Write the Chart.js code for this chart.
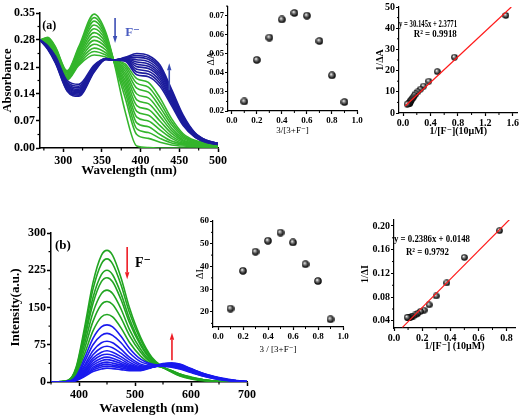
<!DOCTYPE html>
<html>
<head>
<meta charset="utf-8">
<script src="https://cdn.jsdelivr.net/npm/chart.js@4.4.0/dist/chart.umd.min.js"></script>
<style>
  html, body { margin: 0; padding: 0; background: #fff; }
  #wrap { position: relative; width: 520px; height: 417px; overflow: hidden; }
  canvas { position: absolute; }
</style>
</head>
<body>
<div id="wrap">
  <canvas id="specA" width="232" height="178" style="left:0;top:0"></canvas>
  <canvas id="jobA" width="165" height="136" style="left:205px;top:0"></canvas>
  <canvas id="bhA" width="148" height="137" style="left:372px;top:0"></canvas>
  <canvas id="specB" width="262" height="197" style="left:0;top:220px"></canvas>
  <canvas id="jobB" width="165" height="145" style="left:193px;top:210px"></canvas>
  <canvas id="bhB" width="162" height="140" style="left:358px;top:212px"></canvas>
</div>
<script>
// ---------- (a) absorption titration ----------
const wlA = [270, 280, 290, 305, 320, 340, 355, 365, 380, 395, 410, 425, 440, 455, 470, 485, 500];
const greenA = [
  [0.28, 0.287, 0.262, 0.200, 0.262, 0.347, 0.300, 0.228, 0.095, 0.005, 0.001, 0, 0, 0, 0, 0, 0],
  [0.28, 0.285, 0.260, 0.198, 0.258, 0.338, 0.295, 0.228, 0.130, 0.035, 0.025, 0.015, 0.008, 0.005, 0.004, 0.003, 0.003],
  [0.28, 0.283, 0.258, 0.195, 0.253, 0.329, 0.290, 0.228, 0.145, 0.050, 0.040, 0.025, 0.013, 0.008, 0.006, 0.005, 0.005],
  [0.28, 0.281, 0.256, 0.193, 0.249, 0.319, 0.285, 0.228, 0.157, 0.065, 0.055, 0.035, 0.018, 0.010, 0.007, 0.006, 0.006],
  [0.28, 0.279, 0.254, 0.190, 0.244, 0.309, 0.279, 0.228, 0.167, 0.080, 0.070, 0.047, 0.025, 0.012, 0.008, 0.007, 0.007],
  [0.28, 0.277, 0.252, 0.188, 0.240, 0.299, 0.273, 0.228, 0.176, 0.095, 0.085, 0.058, 0.031, 0.015, 0.010, 0.008, 0.008],
  [0.28, 0.275, 0.250, 0.186, 0.235, 0.289, 0.267, 0.228, 0.185, 0.110, 0.100, 0.070, 0.038, 0.018, 0.011, 0.009, 0.009],
  [0.28, 0.273, 0.248, 0.184, 0.231, 0.279, 0.261, 0.228, 0.193, 0.125, 0.115, 0.082, 0.045, 0.021, 0.012, 0.010, 0.010],
  [0.28, 0.271, 0.246, 0.182, 0.226, 0.269, 0.254, 0.228, 0.200, 0.140, 0.130, 0.094, 0.052, 0.025, 0.014, 0.011, 0.010],
  [0.28, 0.270, 0.244, 0.180, 0.222, 0.259, 0.247, 0.228, 0.207, 0.155, 0.145, 0.106, 0.060, 0.029, 0.016, 0.012, 0.011],
  [0.28, 0.268, 0.242, 0.178, 0.218, 0.250, 0.241, 0.228, 0.213, 0.168, 0.158, 0.118, 0.068, 0.033, 0.018, 0.013, 0.012],
  [0.28, 0.266, 0.240, 0.176, 0.214, 0.241, 0.236, 0.228, 0.218, 0.180, 0.170, 0.130, 0.076, 0.037, 0.020, 0.014, 0.012]
];
const blueA = [
  [0.28, 0.265, 0.238, 0.175, 0.165, 0.215, 0.232, 0.228, 0.225, 0.190, 0.185, 0.160, 0.110, 0.058, 0.028, 0.014, 0.009],
  [0.28, 0.264, 0.236, 0.171, 0.160, 0.213, 0.232, 0.228, 0.227, 0.197, 0.192, 0.167, 0.115, 0.061, 0.029, 0.015, 0.009],
  [0.28, 0.263, 0.234, 0.168, 0.156, 0.211, 0.232, 0.228, 0.228, 0.204, 0.199, 0.174, 0.120, 0.064, 0.031, 0.016, 0.010],
  [0.28, 0.262, 0.232, 0.165, 0.152, 0.209, 0.231, 0.228, 0.229, 0.211, 0.206, 0.181, 0.125, 0.067, 0.032, 0.016, 0.010],
  [0.28, 0.261, 0.230, 0.162, 0.149, 0.207, 0.231, 0.228, 0.230, 0.217, 0.212, 0.187, 0.130, 0.070, 0.034, 0.017, 0.010],
  [0.28, 0.260, 0.228, 0.159, 0.146, 0.205, 0.231, 0.228, 0.231, 0.223, 0.218, 0.193, 0.135, 0.073, 0.035, 0.018, 0.011],
  [0.28, 0.259, 0.226, 0.156, 0.143, 0.203, 0.230, 0.228, 0.232, 0.229, 0.224, 0.199, 0.140, 0.076, 0.037, 0.019, 0.011],
  [0.28, 0.258, 0.224, 0.153, 0.140, 0.201, 0.230, 0.228, 0.233, 0.235, 0.230, 0.205, 0.144, 0.079, 0.038, 0.019, 0.012],
  [0.28, 0.257, 0.222, 0.150, 0.137, 0.199, 0.230, 0.228, 0.234, 0.240, 0.235, 0.210, 0.148, 0.082, 0.039, 0.020, 0.012],
  [0.28, 0.256, 0.220, 0.148, 0.134, 0.197, 0.229, 0.228, 0.235, 0.245, 0.240, 0.215, 0.152, 0.085, 0.040, 0.020, 0.012]
];

// Job plot (a)
const jobX = [0.1, 0.2, 0.3, 0.4, 0.5, 0.6, 0.7, 0.8, 0.9];
const jobAvals = [0.025, 0.0468, 0.0585, 0.068, 0.0714, 0.070, 0.0567, 0.0387, 0.0247];

// Benesi-Hildebrand (a)
const bhAx = [1.5, 0.75, 0.5, 0.375, 0.3, 0.25, 0.214, 0.1875, 0.167, 0.15, 0.136, 0.125, 0.115, 0.107, 0.1, 0.094, 0.088, 0.075, 0.06];
const bhAy = [46, 26.3, 19.5, 15, 12.7, 11.2, 10, 9.1, 8.3, 7.5, 6.9, 6.3, 5.8, 5.3, 4.9, 4.6, 4.4, 4.3, 4.2];
const fitA = { slope: 30.145, icpt: 2.3771, from: 0.03, to: 1.58 };

// ---------- (b) emission titration ----------
const wlB = [350, 380, 395, 410, 425, 440, 450, 460, 475, 490, 510, 530, 550, 565, 580, 600, 625, 650, 675, 700];
const greenB = [
  [0, 3, 30, 110, 200, 255, 265, 255, 210, 150, 90, 50, 30, 20, 12, 6, 2, 1, 0, 0],
  [0, 3, 28, 103, 187, 238, 248, 238, 196, 140, 85, 48, 30, 21, 13, 7, 3, 1, 0, 0],
  [0, 3, 25, 93, 170, 216, 225, 216, 178, 128, 78, 45, 29, 21, 14, 8, 3, 1, 0, 0],
  [0, 2, 23, 87, 158, 202, 210, 202, 166, 120, 74, 43, 29, 22, 15, 8, 4, 1, 0, 0],
  [0, 2, 21, 77, 140, 178, 185, 178, 147, 106, 66, 40, 29, 22, 15, 9, 4, 1, 0, 0],
  [0, 2, 18, 67, 122, 156, 162, 156, 129, 94, 60, 38, 29, 23, 16, 9, 4, 1, 0, 0],
  [0, 2, 15, 57, 103, 131, 136, 131, 109, 80, 52, 35, 29, 23, 16, 10, 4, 1, 0, 0]
];
const blueB = [
  [0, 1, 12, 48, 88, 111, 115, 111, 92, 68, 46, 36, 32, 30, 26, 19, 11, 5, 2, 0],
  [0, 1, 10, 41, 75, 94, 98, 94, 79, 59, 41, 34, 32, 31, 27, 20, 11, 5, 2, 0],
  [0, 1, 9, 34, 63, 79, 82, 79, 66, 50, 36, 32, 32, 31, 28, 20, 12, 6, 2, 0],
  [0, 1, 8, 30, 55, 69, 72, 69, 58, 45, 33, 31, 33, 32, 29, 21, 12, 6, 2, 0],
  [0, 1, 7, 26, 48, 60, 63, 60, 51, 40, 31, 31, 33, 33, 30, 22, 13, 6, 2, 0],
  [0, 1, 6, 23, 43, 54, 56, 54, 46, 36, 29, 30, 34, 34, 31, 23, 13, 7, 3, 1],
  [0, 1, 5, 21, 38, 48, 50, 48, 41, 33, 28, 30, 34, 35, 32, 23, 14, 7, 3, 1],
  [0, 1, 5, 19, 34, 43, 45, 43, 37, 31, 27, 30, 35, 35, 33, 24, 14, 7, 3, 1],
  [0, 1, 4, 17, 30, 38, 40, 38, 34, 29, 26, 30, 35, 36, 33, 25, 15, 8, 3, 1],
  [0, 1, 4, 15, 27, 34, 36, 34, 31, 27, 25, 30, 36, 37, 34, 26, 15, 8, 3, 1],
  [0, 1, 3, 13, 24, 30, 32, 31, 28, 25, 24, 30, 36, 38, 35, 26, 16, 8, 3, 1],
  [0, 1, 3, 11, 21, 26, 28, 27, 25, 23, 23, 29, 37, 38, 36, 27, 16, 9, 4, 1]
];

// Job plot (b)
const jobBvals = [21.5, 38.1, 46.5, 51.3, 54.9, 50.6, 41, 33.6, 16.8];

// Benesi-Hildebrand (b)
const bhBx = [0.75, 0.5, 0.375, 0.3, 0.25, 0.214, 0.1875, 0.167, 0.15, 0.136, 0.125, 0.115, 0.107, 0.1, 0.094];
const bhBy = [0.192, 0.147, 0.104, 0.082, 0.067, 0.058, 0.056, 0.052, 0.050, 0.048, 0.047, 0.046, 0.045, 0.045, 0.046];
const fitB = { slope: 0.2386, icpt: 0.0148, from: 0.06, to: 0.83 };

// ---------- helpers ----------
const SERIF = '"Liberation Serif", "DejaVu Serif", serif';
const f = (size, weight) => ({ family: SERIF, size: size, weight: weight || 'bold', lineHeight: 1.2 });

function ball(r) {
  const c = document.createElement('canvas');
  c.width = c.height = 2 * r;
  const g = c.getContext('2d');
  const grad = g.createRadialGradient(r * 0.75, r * 0.7, r * 0.05, r, r, r);
  grad.addColorStop(0, '#ffffff');
  grad.addColorStop(0.3, '#8a8a8a');
  grad.addColorStop(0.75, '#1a1a1a');
  grad.addColorStop(1, '#000000');
  g.fillStyle = grad;
  g.beginPath();
  g.arc(r, r, r - 0.2, 0, Math.PI * 2);
  g.fill();
  return c;
}

function axis(o) {
  return {
    type: 'linear',
    min: o.min,
    max: o.max,
    afterBuildTicks: s => { s.ticks = o.ticks.map(v => ({ value: v })); },
    afterFit: s => { if (o.h !== undefined) s.height = o.h; else s.width = o.w; },
    border: { display: true, color: '#000', width: o.bw || 1.5 },
    grid: { display: true, drawOnChartArea: false, drawTicks: true, tickLength: o.tl || 4, tickWidth: o.bw || 1.5, color: '#000' },
    ticks: { color: '#000', font: o.font, padding: o.tp || 1, maxRotation: 0, autoSkip: false, callback: v => o.fmt(v) },
    title: { display: true, text: o.title, color: '#000', font: o.tfont, padding: { top: o.tpad || 0, bottom: 0 } }
  };
}

const minorTicks = {
  id: 'minorTicks',
  afterDraw(chart, args, opts) {
    const ctx = chart.ctx;
    ctx.save();
    ctx.strokeStyle = '#000';
    ctx.lineWidth = opts.w || 1.2;
    ['x', 'y'].forEach(k => {
      const s = chart.scales[k];
      const t = s.ticks.map(o => o.value);
      const step = t[1] - t[0];
      for (let v = t[0] - step / 2; v <= s.max + 1e-9; v += step) {
        if (v < s.min - 1e-9) continue;
        const p = s.getPixelForValue(v);
        ctx.beginPath();
        if (k === 'x') { ctx.moveTo(p, s.top); ctx.lineTo(p, s.top + opts.len); }
        else { ctx.moveTo(s.right, p); ctx.lineTo(s.right - opts.len, p); }
        ctx.stroke();
      }
    });
    ctx.restore();
  }
};

function arrow(ctx, x, y0, y1, color) {
  const dir = Math.sign(y1 - y0), hl = 7, hw = 2.2;
  ctx.save();
  ctx.strokeStyle = color; ctx.fillStyle = color; ctx.lineWidth = 1.6;
  ctx.beginPath(); ctx.moveTo(x, y0); ctx.lineTo(x, y1 - dir * hl); ctx.stroke();
  ctx.beginPath(); ctx.moveTo(x - hw, y1 - dir * hl); ctx.lineTo(x + hw, y1 - dir * hl); ctx.lineTo(x, y1); ctx.closePath(); ctx.fill();
  ctx.restore();
}

function text(ctx, s, x, y, font, color, maxW) {
  ctx.save();
  ctx.font = font; ctx.fillStyle = color || '#000';
  ctx.textAlign = 'left'; ctx.textBaseline = 'middle';
  if (maxW) ctx.fillText(s, x, y, maxW); else ctx.fillText(s, x, y);
  ctx.restore();
}

function spectra(xs, arr, color) {
  return arr.map(ys => ({
    data: xs.map((x, i) => ({ x: x, y: ys[i] })),
    showLine: true,
    borderColor: color,
    borderWidth: 1.6,
    pointRadius: 0,
    cubicInterpolationMode: 'monotone',
    fill: false
  }));
}

function makeChart(id, pad, xAx, yAx, datasets, notes, minor) {
  return new Chart(document.getElementById(id), {
    type: 'scatter',
    data: { datasets: datasets },
    options: {
      responsive: false,
      animation: false,
      events: [],
      layout: { autoPadding: false, padding: pad },
      scales: { x: axis(xAx), y: axis(yAx) },
      plugins: { legend: { display: false }, tooltip: { enabled: false }, minorTicks: minor }
    },
    plugins: [minorTicks, { id: 'notes', afterDraw: c => notes(c) }]
  });
}

// ---------- (a) spectra ----------
makeChart('specA', { left: 0, top: 13, right: 14, bottom: 0 },
  { min: 270, max: 500, ticks: [300, 350, 400, 450, 500], fmt: v => String(v), h: 30, font: f(12), tp: 2,
    title: 'Wavelength (nm)', tfont: f(13) },
  { min: 0, max: 0.35, ticks: [0, 0.07, 0.14, 0.21, 0.28, 0.35], fmt: v => v.toFixed(2), w: 40, font: f(12),
    title: 'Absorbance', tfont: f(12.5), tpad: 0.5 },
  spectra(wlA, blueA, '#1c1c9c').concat(spectra(wlA, greenA, '#34b52c')),
  c => {
    const x = c.scales.x, y = c.scales.y, ctx = c.ctx;
    text(ctx, '(a)', x.getPixelForValue(273), y.getPixelForValue(0.317), 'bold 12px ' + SERIF);
    arrow(ctx, x.getPixelForValue(367), y.getPixelForValue(0.337), y.getPixelForValue(0.272), '#3b4db4');
    text(ctx, 'F⁻', x.getPixelForValue(380), y.getPixelForValue(0.298), 'bold 13px ' + SERIF, '#4a5cc0');
    arrow(ctx, x.getPixelForValue(437), y.getPixelForValue(0.150), y.getPixelForValue(0.220), '#3b4db4');
  },
  { len: 2.5, w: 1.2 });

// ---------- (a) Job plot ----------
makeChart('jobA', { left: 0, top: 2, right: 13, bottom: 0 },
  { min: -0.03, max: 1.0, ticks: [0, 0.2, 0.4, 0.6, 0.8, 1.0], fmt: v => v.toFixed(1), h: 25, font: f(9), tl: 3, bw: 1.2,
    title: '3/[3+F⁻]', tfont: f(9, 'normal') },
  { min: 0.02, max: 0.075, ticks: [0.02, 0.03, 0.04, 0.05, 0.06, 0.07], fmt: v => v.toFixed(2), w: 23, font: f(8.5), tl: 3, bw: 1.2,
    title: 'ΔA', tfont: f(10, 'normal') },
  [{ data: jobX.map((x, i) => ({ x: x, y: jobAvals[i] })), pointStyle: ball(4), pointRadius: 4 }],
  c => {},
  { len: 2, w: 1 });

// ---------- (a) Benesi-Hildebrand ----------
makeChart('bhA', { left: 0, top: 7, right: 2, bottom: 0 },
  { min: -0.06, max: 1.67, ticks: [0, 0.4, 0.8, 1.2, 1.6], fmt: v => v.toFixed(1), h: 24, font: f(10), tl: 3, bw: 1.2,
    title: '1/[F⁻](10μM)', tfont: f(10) },
  { min: 0, max: 50, ticks: [0, 10, 20, 30, 40, 50], fmt: v => String(v), w: 27, font: f(10), tl: 3, bw: 1.2,
    title: '1/ΔA', tfont: f(10), tpad: 2 },
  [
    { data: [fitA.from, fitA.to].map(x => ({ x: x, y: fitA.slope * x + fitA.icpt })), showLine: true,
      borderColor: '#ff1a1a', borderWidth: 1.2, pointRadius: 0 },
    { data: bhAx.map((x, i) => ({ x: x, y: bhAy[i] })), pointStyle: ball(3.5), pointRadius: 3.5 }
  ],
  c => {
    const x = c.scales.x, y = c.scales.y, ctx = c.ctx;
    text(ctx, 'y = 30.145x + 2.3771', x.getPixelForValue(-0.06), y.getPixelForValue(41.9), 'bold 10px ' + SERIF, '#000', 58);
    text(ctx, 'R² = 0.9918', x.getPixelForValue(0.156), y.getPixelForValue(37.2), 'bold 10px ' + SERIF, '#000', 43);
  },
  { len: 2, w: 1 });

// ---------- (b) spectra ----------
makeChart('specB', { left: 0, top: 13, right: 15, bottom: 0 },
  { min: 350, max: 700, ticks: [400, 500, 600, 700], fmt: v => String(v), h: 35, font: f(12), tp: 2,
    title: 'Wavelength (nm)', tfont: f(13.5) },
  { min: 0, max: 300, ticks: [0, 75, 150, 225, 300], fmt: v => String(v), w: 51, font: f(12),
    title: 'Intensity(a.u.)', tfont: f(13), tpad: 8 },
  spectra(wlB, blueB, '#1a1aee').concat(spectra(wlB, greenB, '#21a521')),
  c => {
    const x = c.scales.x, y = c.scales.y, ctx = c.ctx;
    text(ctx, '(b)', x.getPixelForValue(357), y.getPixelForValue(275), 'bold 13px ' + SERIF);
    arrow(ctx, x.getPixelForValue(486), y.getPixelForValue(272), y.getPixelForValue(207), '#ee1c24');
    text(ctx, 'F⁻', x.getPixelForValue(500), y.getPixelForValue(239), 'bold 14px ' + SERIF, '#000');
    arrow(ctx, x.getPixelForValue(566), y.getPixelForValue(44), y.getPixelForValue(99), '#ee1c24');
  },
  { len: 2.5, w: 1.2 });

// ---------- (b) Job plot ----------
makeChart('jobB', { left: 0, top: 11, right: 15, bottom: 0 },
  { min: -0.04, max: 1.0, ticks: [0, 0.2, 0.4, 0.6, 0.8, 1.0], fmt: v => v.toFixed(1), h: 28, font: f(9), tl: 3, bw: 1.2,
    title: '3 / [3+F⁻]', tfont: f(9, 'normal') },
  { min: 13.4, max: 60, ticks: [20, 30, 40, 50, 60], fmt: v => String(v), w: 20, font: f(9), tl: 3, bw: 1.2,
    title: 'ΔI', tfont: f(10, 'normal'), tpad: 1 },
  [{ data: jobX.map((x, i) => ({ x: x, y: jobBvals[i] })), pointStyle: ball(4), pointRadius: 4 }],
  c => {},
  { len: 2, w: 1 });

// ---------- (b) Benesi-Hildebrand ----------
makeChart('bhB', { left: 0, top: 8, right: 5, bottom: 0 },
  { min: 0, max: 0.86, ticks: [0, 0.2, 0.4, 0.6, 0.8], fmt: v => v.toFixed(1), h: 24, font: f(10), tl: 3, bw: 1.2,
    title: '1/[F⁻] (10μM)', tfont: f(10) },
  { min: 0.028, max: 0.21, ticks: [0.04, 0.08, 0.12, 0.16, 0.20], fmt: v => v.toFixed(2), w: 36, font: f(10), tl: 3, bw: 1.2,
    title: '1/ΔI', tfont: f(10), tpad: 1 },
  [
    { data: [fitB.from, fitB.to].map(x => ({ x: x, y: fitB.slope * x + fitB.icpt })), showLine: true,
      borderColor: '#ff1a1a', borderWidth: 1.2, pointRadius: 0 },
    { data: bhBx.map((x, i) => ({ x: x, y: bhBy[i] })), pointStyle: ball(3.5), pointRadius: 3.5 }
  ],
  c => {
    const x = c.scales.x, y = c.scales.y, ctx = c.ctx;
    text(ctx, 'y = 0.2386x + 0.0148', x.getPixelForValue(0), y.getPixelForValue(0.1775), 'bold 10px ' + SERIF, '#000', 76);
    text(ctx, 'R² = 0.9792', x.getPixelForValue(0.085), y.getPixelForValue(0.1556), 'bold 10px ' + SERIF, '#000', 43);
  },
  { len: 2, w: 1 });
</script>
</body>
</html>
